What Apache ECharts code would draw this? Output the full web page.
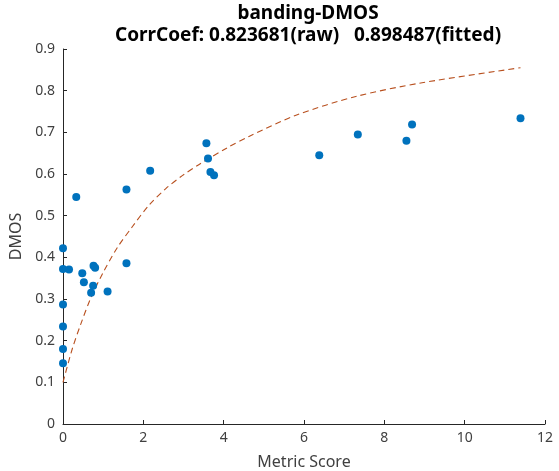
<!DOCTYPE html>
<html>
<head>
<meta charset="utf-8">
<script src="https://cdn.jsdelivr.net/npm/echarts@6/dist/echarts.min.js"></script>
<style>
html,body{margin:0;padding:0;background:#fff;}
#chart{width:559px;height:471px;}
</style>
</head>
<body>
<div id="chart"></div>
<script>
// Scatter data: metric score vs DMOS
const scoreX = [0, 0, 0.15, 0, 0, 0, 0, 0.33, 0.48, 0.52, 0.76, 0.80, 0.75, 0.70, 1.11, 1.58, 1.58, 2.17, 3.57, 3.61, 3.67, 3.76, 6.38, 7.34, 8.55, 8.69, 11.39];
const dmosY  = [0.422, 0.372, 0.371, 0.287, 0.234, 0.180, 0.146, 0.545, 0.362, 0.340, 0.380, 0.375, 0.332, 0.315, 0.318, 0.386, 0.563, 0.608, 0.674, 0.637, 0.605, 0.597, 0.645, 0.695, 0.680, 0.719, 0.734];
// Fitted curve
const fitX = [0, 0.23, 0.44, 0.69, 0.98, 1.35, 1.73, 2.14, 2.56, 2.97, 3.39, 4.09, 4.63, 5.8, 7.29, 8.94, 11.39];
const fitY = [0.10, 0.18, 0.239, 0.302, 0.36, 0.423, 0.474, 0.525, 0.565, 0.596, 0.623, 0.663, 0.69, 0.741, 0.786, 0.819, 0.855];
const xTicks = [0, 2, 4, 6, 8, 10, 12];
const yTicks = [0, 0.1, 0.2, 0.3, 0.4, 0.5, 0.6, 0.7, 0.8, 0.9];

const FONT = 'Noto Sans';
const AX = '#262626';
const LBL = '#404040';

const chart = echarts.init(document.getElementById('chart'), null, {renderer: 'canvas'});
chart.setOption({
  animation: false,
  backgroundColor: '#fff',
  title: {
    text: 'banding-DMOS\nCorrCoef: 0.823681(raw)   0.898487(fitted)',
    left: 303,
    textAlign: 'center',
    top: -2,
    textStyle: {fontFamily: FONT, fontSize: 19, fontWeight: 'bold', color: '#000', lineHeight: 22}
  },
  grid: {left: 63, right: 14, top: 49, bottom: 47, containLabel: false, outerBoundsMode: 'none'},
  xAxis: {
    type: 'value', min: xTicks[0], max: xTicks[xTicks.length - 1], interval: 2,
    name: 'Metric Score', nameLocation: 'middle', nameGap: 30,
    nameTextStyle: {fontFamily: FONT, fontSize: 16, color: LBL},
    axisLine: {show: true, onZero: false, lineStyle: {color: AX, width: 1}},
    axisTick: {show: true, inside: true, length: 4, lineStyle: {color: AX}},
    axisLabel: {fontFamily: FONT, fontSize: 14, color: LBL, margin: 7},
    splitLine: {show: false}
  },
  yAxis: {
    type: 'value', min: yTicks[0], max: yTicks[yTicks.length - 1], interval: 0.1,
    name: 'DMOS', nameLocation: 'middle', nameGap: 35, nameRotate: 90,
    nameTextStyle: {fontFamily: FONT, fontSize: 16, color: LBL},
    axisLine: {show: true, onZero: false, lineStyle: {color: AX, width: 1}},
    axisTick: {show: true, inside: true, length: 4, lineStyle: {color: AX}},
    axisLabel: {fontFamily: FONT, fontSize: 14, color: LBL, margin: 8,
      formatter: v => (Math.round(v * 10) / 10).toString()},
    splitLine: {show: false}
  },
  series: [
    {
      type: 'line',
      data: fitX.map((x, i) => [x, fitY[i]]),
      smooth: 0.3,
      symbol: 'none',
      lineStyle: {color: '#b8501f', width: 1.1, type: [6, 4]},
      z: 2
    },
    {
      type: 'scatter',
      data: scoreX.map((x, i) => [x, dmosY[i]]),
      symbolSize: 8,
      itemStyle: {color: '#0072BD', opacity: 1},
      z: 3
    }
  ]
});
</script>
</body>
</html>
